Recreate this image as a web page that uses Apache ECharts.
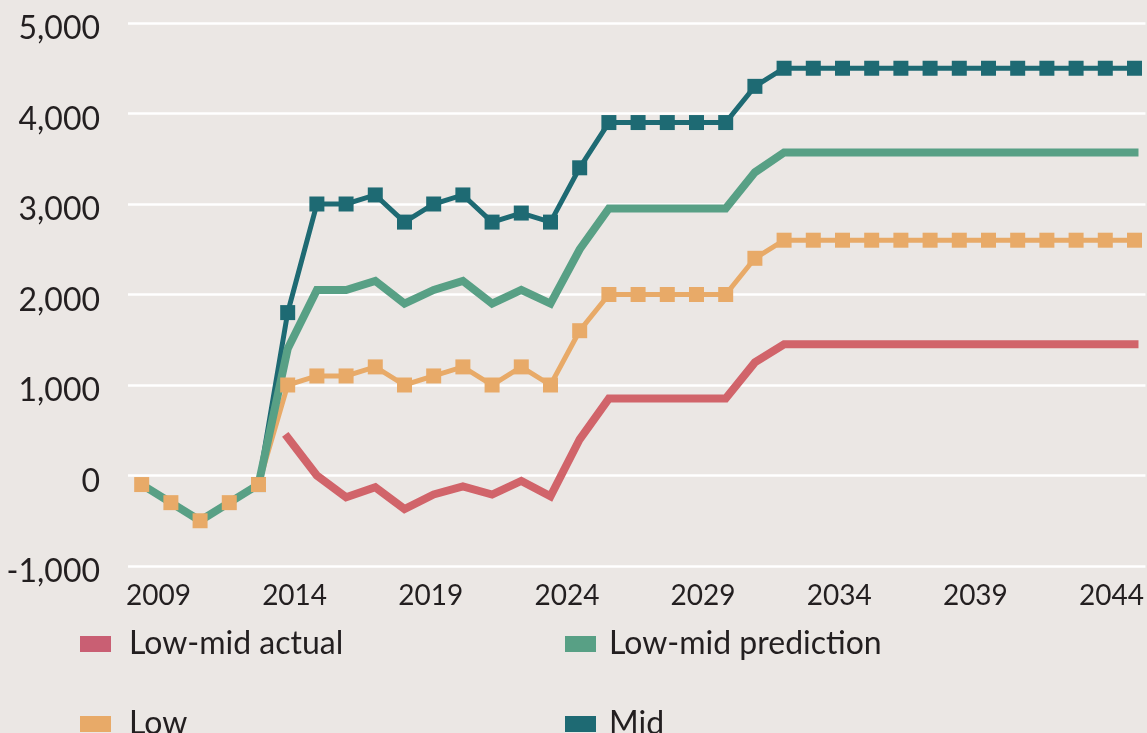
<!DOCTYPE html>
<html>
<head>
<meta charset="utf-8">
<script src="https://cdn.jsdelivr.net/npm/echarts@6/dist/echarts.min.js"></script>
<style>
  html, body { margin: 0; padding: 0; background: #EBE7E4; }
  #chart { width: 1147px; height: 733px; }
</style>
</head>
<body>
<div id="chart"></div>
<script>
// ---- data ----
const years = [2009, 2010, 2011, 2012, 2013, 2014, 2015, 2016, 2017, 2018, 2019, 2020,
  2021, 2022, 2023, 2024, 2025, 2026, 2027, 2028, 2029, 2030, 2031, 2032, 2033, 2034,
  2035, 2036, 2037, 2038, 2039, 2040, 2041, 2042, 2043];
const tickYears = [2009, 2014, 2019, 2024, 2029, 2034, 2039, 2044];

const lowMidActual = [null, null, null, null, null, 420, 0, -240, -130, -370, -210, -120,
  -210, -60, -230, 400, 850, 850, 850, 850, 850, 1250, 1450, 1450, 1450, 1450,
  1450, 1450, 1450, 1450, 1450, 1450, 1450, 1450, 1450];
const lowMidPrediction = [-100, -300, -500, -300, -100, 1400, 2050, 2050, 2150, 1900, 2050, 2150,
  1900, 2050, 1900, 2500, 2950, 2950, 2950, 2950, 2950, 3350, 3570, 3570, 3570, 3570,
  3570, 3570, 3570, 3570, 3570, 3570, 3570, 3570, 3570];
const low = [-100, -300, -500, -300, -100, 1000, 1100, 1100, 1200, 1000, 1100, 1200,
  1000, 1200, 1000, 1600, 2000, 2000, 2000, 2000, 2000, 2400, 2600, 2600, 2600, 2600,
  2600, 2600, 2600, 2600, 2600, 2600, 2600, 2600, 2600];
const mid = [null, null, null, null, -100, 1800, 3000, 3000, 3100, 2800, 3000, 3100,
  2800, 2900, 2800, 3400, 3900, 3900, 3900, 3900, 3900, 4300, 4500, 4500, 4500, 4500,
  4500, 4500, 4500, 4500, 4500, 4500, 4500, 4500, 4500];

const yTicks = { min: -1000, max: 5000, interval: 1000 };

// ---- build ----
const pairs = arr => years.map((y, i) => [y, arr[i]]).filter(d => d[1] !== null);

const C = {
  actual: '#D1646A',
  actualLegend: '#C95F73',
  pred: '#58A085',
  low: '#E8AA68',
  mid: '#1E6A73',
  text: '#231F20'
};
const FONT = 'Lato';

const chart = echarts.init(document.getElementById('chart'), null, { renderer: 'canvas' });

function legendOne(name, color, left, top, gap) {
  return {
    data: [{ name: name, itemStyle: { color: color } }],
    left: left, top: top, padding: 0,
    icon: 'rect', itemWidth: 31, itemHeight: 16,
    selectedMode: false,
    textStyle: { fontFamily: FONT, fontSize: 32, color: C.text, padding: [6, 0, 0, gap], lineHeight: 32 }
  };
}

chart.setOption({
  backgroundColor: '#EBE7E4',
  animation: false,
  grid: { left: 128, right: 0, top: 23, bottom: 167, containLabel: false },
  legend: [
    legendOne('Low-mid actual', C.actualLegend, 80, 625, 13),
    legendOne('Low-mid prediction', C.pred, 565, 625, 8),
    legendOne('Low', C.low, 80, 705, 13),
    legendOne('Mid', C.mid, 565, 705, 8)
  ],
  xAxis: [
    { type: 'value', min: 2008.5315, max: 2043.376, show: false },
    {
      type: 'value', min: 2007.8816, max: 2045.2467, position: 'bottom',
      axisLine: { show: false }, axisTick: { show: false }, splitLine: { show: false },
      axisLabel: {
        customValues: tickYears,
        formatter: v => String(v),
        fontFamily: FONT, fontSize: 28, color: C.text, margin: 16
      }
    }
  ],
  yAxis: {
    type: 'value', min: yTicks.min, max: yTicks.max, interval: yTicks.interval,
    axisLine: { show: false }, axisTick: { show: false },
    splitLine: { show: true, lineStyle: { color: '#FFFFFF', width: 2.5 } },
    axisLabel: {
      formatter: v => '{t|' + v.toLocaleString('en-US') + '}',
      margin: 28,
      rich: {
        t: { fontFamily: FONT, fontSize: 32, color: C.text, lineHeight: 32, padding: [12, 0, 0, 0] }
      }
    }
  },
  series: [
    {
      name: 'Mid', type: 'line', xAxisIndex: 0, data: pairs(mid),
      symbol: 'rect', symbolSize: 15, showAllSymbol: true,
      itemStyle: { color: C.mid },
      lineStyle: { color: C.mid, width: 5, join: 'miter' }
    },
    {
      name: 'Low', type: 'line', xAxisIndex: 0, data: pairs(low),
      symbol: 'rect', symbolSize: 15, showAllSymbol: true,
      itemStyle: { color: C.low },
      lineStyle: { color: C.low, width: 5, join: 'miter' }
    },
    {
      name: 'Low-mid prediction', type: 'line', xAxisIndex: 0, data: pairs(lowMidPrediction),
      showSymbol: false, symbol: 'none',
      itemStyle: { color: C.pred },
      lineStyle: { color: C.pred, width: 8, join: 'miter', cap: 'square' }
    },
    {
      name: 'Low-mid actual', type: 'line', xAxisIndex: 0, data: pairs(lowMidActual),
      showSymbol: false, symbol: 'none',
      itemStyle: { color: C.actual },
      lineStyle: { color: C.actual, width: 8, join: 'miter', cap: 'square' }
    }
  ]
});
</script>
</body>
</html>
